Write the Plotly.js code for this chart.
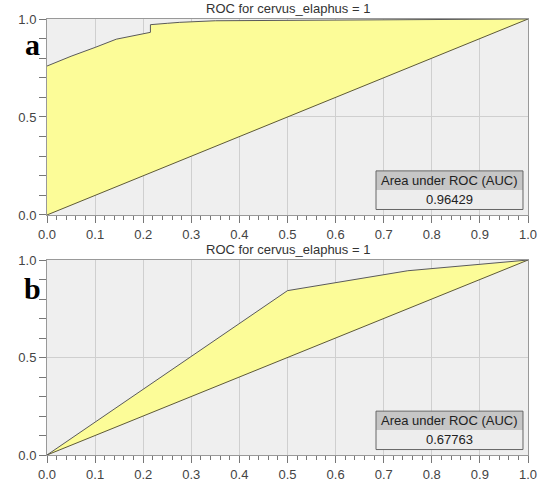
<!DOCTYPE html>
<html>
<head>
<meta charset="utf-8">
<script src="https://cdn.plot.ly/plotly-3.0.1.min.js"></script>
<style>html,body{margin:0;padding:0;background:#fff;}#chart{width:547px;height:483px;}</style>
</head>
<body>
<div id="chart"></div>
<script>
// Panel a: ROC curve
var rocA_fpr = [0.0, 0.05, 0.10, 0.144, 0.215, 0.215, 0.25, 0.276, 0.35, 0.55, 0.74, 0.87, 1.0];
var rocA_tpr = [0.76, 0.81, 0.855, 0.897, 0.932, 0.971, 0.978, 0.983, 0.991, 0.993, 0.996, 1.0, 1.0];
// Panel b: ROC curve
var rocB_fpr = [0.0, 0.5, 0.75, 1.0];
var rocB_tpr = [0.0, 0.843, 0.945, 1.0];
// chance diagonal
var diag = [0.0, 1.0];
var aucA = "0.96429";
var aucB = "0.67763";
var titleText = "ROC for cervus_elaphus = 1";
var aucHeader = "Area under ROC (AUC)";
var panelLabels = ["a", "b"];

var fillCol = "#fcfc98";
var curveCol = "#5a5a5a";
var diagCol = "#5e5a36";

var traces = [
  {x: diag, y: diag, xaxis: "x", yaxis: "y", mode: "lines", line: {color: diagCol, width: 1}, hoverinfo: "skip"},
  {x: rocA_fpr, y: rocA_tpr, xaxis: "x", yaxis: "y", mode: "lines", fill: "tonexty", fillcolor: fillCol, line: {color: curveCol, width: 1}},
  {x: diag, y: diag, xaxis: "x2", yaxis: "y2", mode: "lines", line: {color: diagCol, width: 1}, hoverinfo: "skip"},
  {x: rocB_fpr, y: rocB_tpr, xaxis: "x2", yaxis: "y2", mode: "lines", fill: "tonexty", fillcolor: fillCol, line: {color: curveCol, width: 1}}
];

function xax(anchor) {
  return {
    anchor: anchor, range: [0, 1], dtick: 0.1, tick0: 0, tickformat: ".1f",
    ticks: "outside", ticklen: 7, tickcolor: "#777", showline: true, linecolor: "#999", mirror: true,
    showgrid: true, gridcolor: "#cfcfcf", gridwidth: 1, zeroline: false,
    tickfont: {family: "Liberation Sans, Arial, sans-serif", size: 13, color: "#444"},
    minor: {dtick: 0.02, ticks: "outside", ticklen: 4, tickcolor: "#777", showgrid: false},
    fixedrange: true
  };
}
function yax(anchor, domain) {
  return {
    anchor: anchor, domain: domain, range: [0, 1], dtick: 0.5, tick0: 0, tickformat: ".1f",
    ticks: "outside", ticklen: 7, tickcolor: "#777", showline: true, linecolor: "#999", mirror: true,
    showgrid: true, gridcolor: "#cfcfcf", gridwidth: 1, zeroline: false,
    tickfont: {family: "Liberation Sans, Arial, sans-serif", size: 13, color: "#444"},
    minor: {dtick: 0.1, ticks: "outside", ticklen: 7, tickcolor: "#777", showgrid: false},
    fixedrange: true
  };
}

var font = {family: "Liberation Sans, Arial, sans-serif", size: 13, color: "#222"};
var shapes = [];
var annotations = [];
[["x", "y", aucA], ["x2", "y2", aucB]].forEach(function (p, i) {
  var xr = p[0] + " domain", yr = p[1] + " domain";
  var x0 = 0.684, x1 = 0.9896, yb = 0.028, ym = 0.128, yt = 0.225;
  shapes.push({type: "rect", xref: xr, yref: yr, x0: x0, x1: x1, y0: ym, y1: yt, fillcolor: "#c6c6c6", line: {width: 0}});
  shapes.push({type: "rect", xref: xr, yref: yr, x0: x0, x1: x1, y0: yb, y1: ym, fillcolor: "#ededed", line: {width: 0}});
  shapes.push({type: "rect", xref: xr, yref: yr, x0: x0, x1: x1, y0: yb, y1: yt, line: {color: "#666", width: 1}});
  annotations.push({xref: xr, yref: yr, x: (x0 + x1) / 2, y: (ym + yt) / 2, text: aucHeader, showarrow: false, font: font, xanchor: "center", yanchor: "middle"});
  annotations.push({xref: xr, yref: yr, x: (x0 + x1) / 2, y: (yb + ym) / 2, text: p[2], showarrow: false, font: font, xanchor: "center", yanchor: "middle"});
  annotations.push({xref: xr, yref: yr, x: 0.5, y: 1, yshift: 11, text: titleText, showarrow: false, font: {family: font.family, size: 13, color: "#333"}, xanchor: "center", yanchor: "middle"});
  annotations.push({xref: "paper", yref: yr, x: -0.031, y: i === 0 ? 0.87 : 0.855, text: "<b>" + panelLabels[i] + "</b>", showarrow: false,
    font: {family: "Liberation Serif, Times New Roman, serif", size: 30, color: "#000"}, xanchor: "center", yanchor: "middle"});
});

var layout = {
  width: 547, height: 483,
  margin: {l: 47, r: 19, t: 19, b: 28},
  paper_bgcolor: "#ffffff", plot_bgcolor: "#efefef",
  showlegend: false,
  xaxis: xax("y"),
  yaxis: yax("x", [0.5505, 1]),
  xaxis2: xax("y2"),
  yaxis2: yax("x2", [0, 0.4472]),
  shapes: shapes,
  annotations: annotations
};

Plotly.newPlot("chart", traces, layout, {displayModeBar: false, staticPlot: true});
</script>
</body>
</html>
